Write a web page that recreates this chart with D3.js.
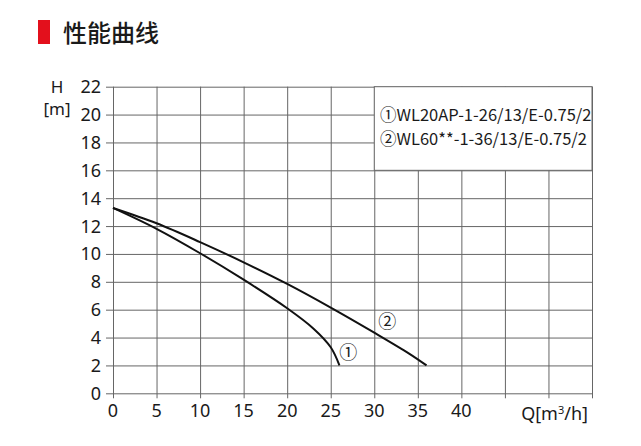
<!DOCTYPE html>
<html>
<head>
<meta charset="utf-8">
<script src="https://cdn.jsdelivr.net/npm/d3@7"></script>
<style>
  body { margin: 0; background: #fff; }
  svg text { font-family: "Noto Sans", "Noto Sans CJK SC", sans-serif; fill: #1a1a1a; }
</style>
</head>
<body>
<svg id="chart" width="641" height="446"></svg>
<script>
// pump performance curves
const titleText = "性能曲线";
const xTicks = [0, 5, 10, 15, 20, 25, 30, 35, 40, 45, 50, 55];
const xLabels = ["0", "5", "10", "15", "20", "25", "30", "35", "40", "", "", ""];
const yTicks = [0, 2, 4, 6, 8, 10, 12, 14, 16, 18, 20, 22];
const legendLabels = ["①WL20AP-1-26/13/E-0.75/2", "②WL60**-1-36/13/E-0.75/2"];
const curveMarks = ["①", "②"];

const curve1 = [[0, 13.3], [5, 11.8], [10, 10.05], [15, 8.15], [20, 6.1], [23, 4.65], [25, 3.3], [26, 2.0]];
const curve2 = [[0, 13.3], [5, 12.2], [10, 10.85], [15, 9.4], [20, 7.85], [25, 6.15], [30, 4.35], [34, 2.85], [36, 2.0]];
// where the little circled numbers sit (data coords)
const markPos = [[27, 2.9], [31.5, 5.1]];

const svg = d3.select("#chart");

// title with red block
svg.append("rect")
  .attr("x", 38).attr("y", 20)
  .attr("width", 12).attr("height", 24)
  .attr("fill", "#e3101c");
svg.append("text")
  .attr("x", 63).attr("y", 42)
  .style("font-family", "'Noto Sans CJK SC', sans-serif")
  .style("font-size", "24px")
  .style("font-weight", "500")
  .text(titleText);

const x = d3.scaleLinear().domain([0, 55]).range([113, 592]);
const y = d3.scaleLinear().domain([0, 22]).range([393.3, 86.7]);

const gridColor = "#666";

// vertical grid + ticks below
svg.append("g")
  .attr("transform", `translate(0,${y(0)})`)
  .call(d3.axisBottom(x).tickValues(xTicks)
    .tickSize(-(y(0) - y(22)))
    .tickFormat(""))
  .call(g => g.select(".domain").remove())
  .selectAll("line").attr("stroke", gridColor).attr("y2", 5).attr("y1", -(y(0) - y(22)));

// horizontal grid + ticks on left
svg.append("g")
  .attr("transform", `translate(${x(0)},0)`)
  .call(d3.axisLeft(y).tickValues(yTicks)
    .tickSize(-(x(55) - x(0)))
    .tickFormat(""))
  .call(g => g.select(".domain").remove())
  .selectAll("line").attr("stroke", gridColor).attr("x2", -7).attr("x1", x(55) - x(0));

// tick labels
svg.append("g").selectAll("text")
  .data(yTicks).join("text")
  .attr("x", 101)
  .attr("y", d => y(d) + 6.5)
  .attr("text-anchor", "end")
  .style("font-size", "18px")
  .text(d => d);

svg.append("g").selectAll("text")
  .data(xTicks).join("text")
  .attr("x", d => x(d))
  .attr("y", 417)
  .attr("text-anchor", "middle")
  .style("font-size", "18px")
  .text((d, i) => xLabels[i]);

// axis titles
svg.append("text").attr("x", 57).attr("y", 93)
  .attr("text-anchor", "middle").style("font-size", "17px").text("H");
svg.append("text").attr("x", 57).attr("y", 115)
  .attr("text-anchor", "middle").style("font-size", "17px").text("[m]");
const qLabel = svg.append("text").attr("x", 588).attr("y", 420)
  .attr("text-anchor", "end").style("font-size", "18px");
qLabel.append("tspan").text("Q[m");
qLabel.append("tspan").attr("dy", -6).style("font-size", "11px").text("3");
qLabel.append("tspan").attr("dy", 6).text("/h]");

// legend box sits on top of the grid
svg.append("rect")
  .attr("x", x(30)).attr("y", y(22))
  .attr("width", x(55) - x(30)).attr("height", y(16) - y(22))
  .attr("fill", "#fff").attr("stroke", gridColor);

svg.append("g").selectAll("text")
  .data(legendLabels).join("text")
  .attr("x", 380)
  .attr("y", (d, i) => 121 + i * 24)
  .style("font-family", "'Noto Sans CJK SC', sans-serif")
  .style("font-size", "16.5px")
  .text(d => d);

// curves
const line = d3.line()
  .x(d => x(d[0]))
  .y(d => y(d[1]))
  .curve(d3.curveCatmullRom);

svg.append("g").selectAll("path")
  .data([curve1, curve2]).join("path")
  .attr("d", line)
  .attr("fill", "none")
  .attr("stroke", "#111")
  .attr("stroke-width", 2);

svg.append("g").selectAll("text")
  .data(markPos).join("text")
  .attr("x", d => x(d[0]))
  .attr("y", d => y(d[1]) + 6)
  .attr("text-anchor", "middle")
  .style("font-family", "'Noto Sans CJK SC', sans-serif")
  .style("font-size", "18px")
  .text((d, i) => curveMarks[i]);
</script>
</body>
</html>
